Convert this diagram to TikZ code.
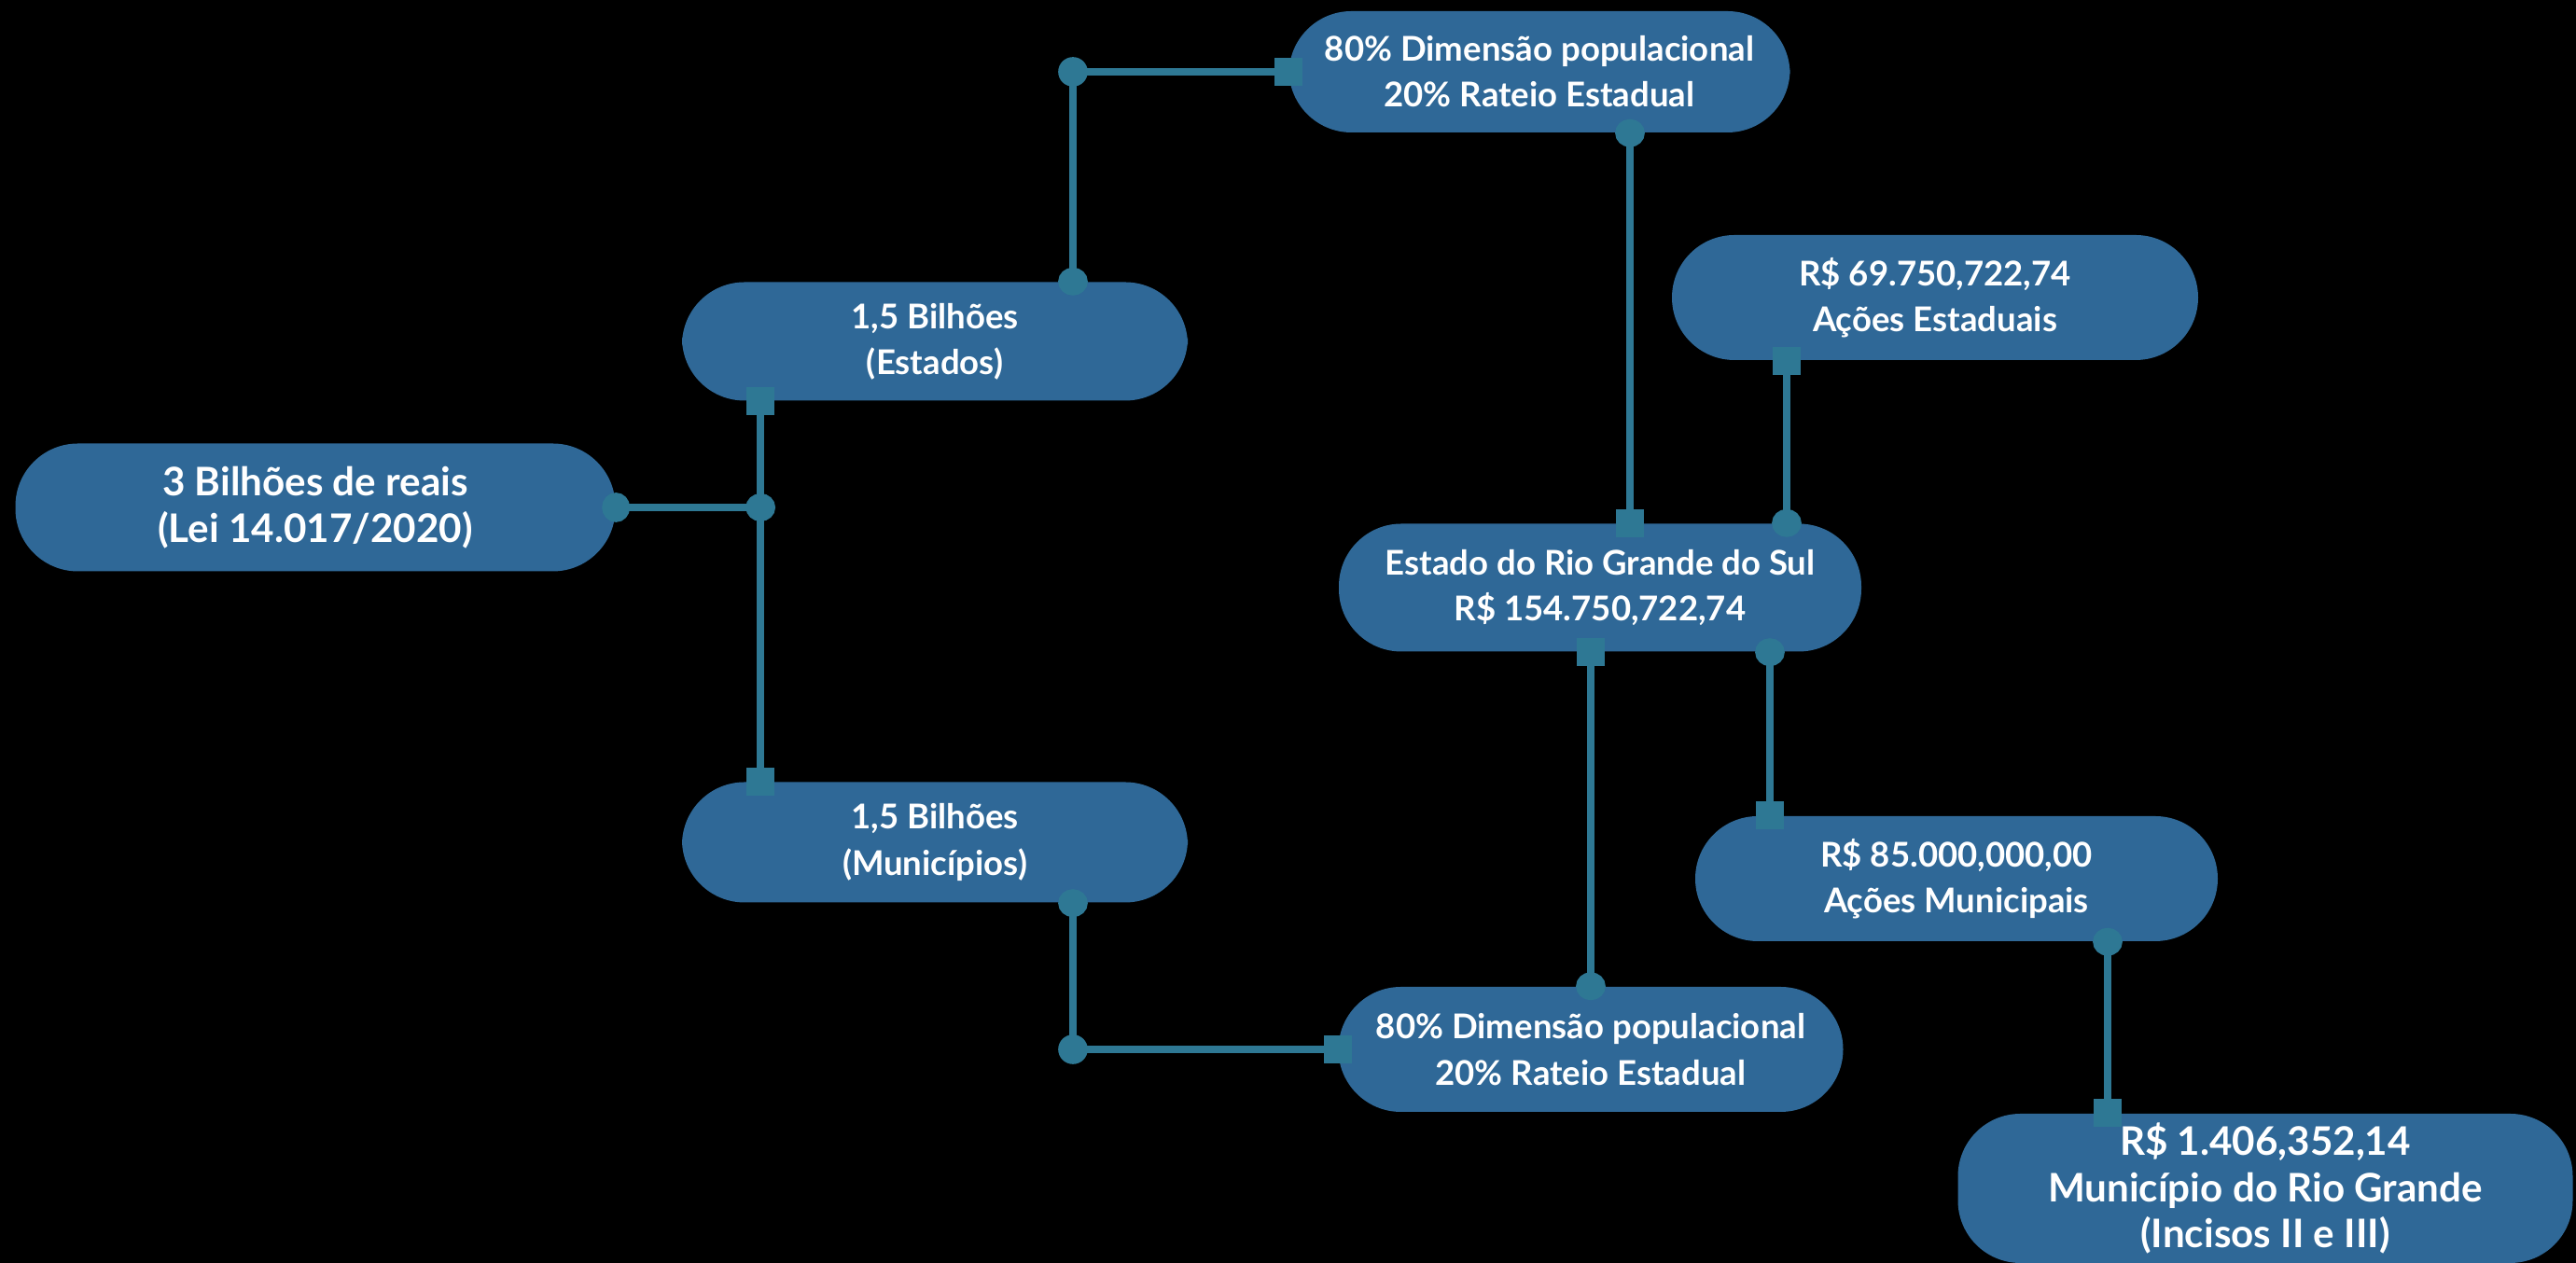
\documentclass[tikz,border=0pt]{standalone}
\usepackage{fontspec}
\setmainfont{Lato}
\usepackage{tikz}
\usetikzlibrary{arrows.meta, positioning, calc}
\definecolor{pillblue}{RGB}{47,104,151}
\definecolor{linkteal}{RGB}{46,120,148}
\tikzset{
  pill/.style={rectangle, fill=pillblue, text=white, align=center,
    minimum height=1.34cm, rounded corners=0.67cm, inner sep=0pt,
    font=\fontsize{10.4}{14}\selectfont\bfseries},
  bigpill/.style={pill, font=\fontsize{12}{14.2}\selectfont\bfseries},
  link/.style={draw=linkteal, line width=2.2pt,
    {Circle[length=8.5pt,width=9pt]}-{Square[length=8.5pt,width=8.5pt]},
    shorten <=-4.25pt, shorten >=-4.25pt},
  joint/.style={circle, fill=linkteal, minimum size=9pt, inner sep=0pt}
}

\begin{document}
\begin{tikzpicture}
  \useasboundingbox (0,0) rectangle (27.61,13.54);
  \fill[black] (0,0) rectangle (27.61,13.54);

  % Boxes
  \node[bigpill, minimum width=6.43cm, minimum height=1.37cm] (total) at (3.38,8.10) {3 Bilhões de reais\\(Lei 14.017/2020)};
  \node[pill, minimum width=5.42cm, minimum height=1.27cm] (estados) at (10.02,9.88) {1,5 Bilhões\\(Estados)};
  \node[pill, minimum width=5.42cm, minimum height=1.29cm] (municipios) at (10.02,4.51) {1,5 Bilhões\\(Municípios)};
  \node[pill, minimum width=5.37cm, minimum height=1.30cm] (critA) at (16.50,12.77) {80\% Dimensão populacional\\20\% Rateio Estadual};
  \node[pill, minimum width=5.41cm] (critB) at (17.05,2.29) {80\% Dimensão populacional\\20\% Rateio Estadual};
  \node[pill, minimum width=5.60cm, minimum height=1.37cm] (rs) at (17.15,7.24) {Estado do Rio Grande do Sul\\R\$ 154.750,722,74};
  \node[pill, minimum width=5.64cm] (acoesE) at (20.74,10.35) {R\$ 69.750,722,74\\Ações Estaduais};
  \node[pill, minimum width=5.60cm] (acoesM) at (20.97,4.12) {R\$ 85.000,000,00\\Ações Municipais};
  \node[bigpill, minimum width=6.59cm, minimum height=1.60cm] (rg) at (24.28,0.80) {R\$ 1.406,352,14\\Município do Rio Grande\\(Incisos II e III)};

  % Split of the total
  \coordinate (split) at ($(total.east)+(1.55,0)$);
  \draw[link] (total.east) -- (split) -- (split |- estados.south);
  \draw[link] (split) -- (split |- municipios.north);

  % Estados / Municipios to the criteria
  \node[joint] (kBD) at ([xshift=1.48cm]estados.north |- critA.west) {};
  \draw[link] ([xshift=1.48cm]estados.north) |- (critA.west);
  \node[joint] (kCE) at ([xshift=1.48cm]municipios.south |- critB.west) {};
  \draw[link] ([xshift=1.48cm]municipios.south) |- (critB.west);

  % Criteria to the state
  \draw[link] ([xshift=0.97cm]critA.south) -- ([xshift=0.97cm]critA.south |- rs.north);
  \draw[link] (critB.north) -- (critB.north |- rs.south);

  % State to the actions
  \draw[link] ([xshift=2.00cm]rs.north) -- ([xshift=2.00cm]rs.north |- acoesE.south);
  \draw[link] ([xshift=1.82cm]rs.south) -- ([xshift=1.82cm]rs.south |- acoesM.north);
  \draw[link] ([xshift=1.62cm]acoesM.south) -- ([xshift=1.62cm]acoesM.south |- rg.north);
\end{tikzpicture}
\end{document}
